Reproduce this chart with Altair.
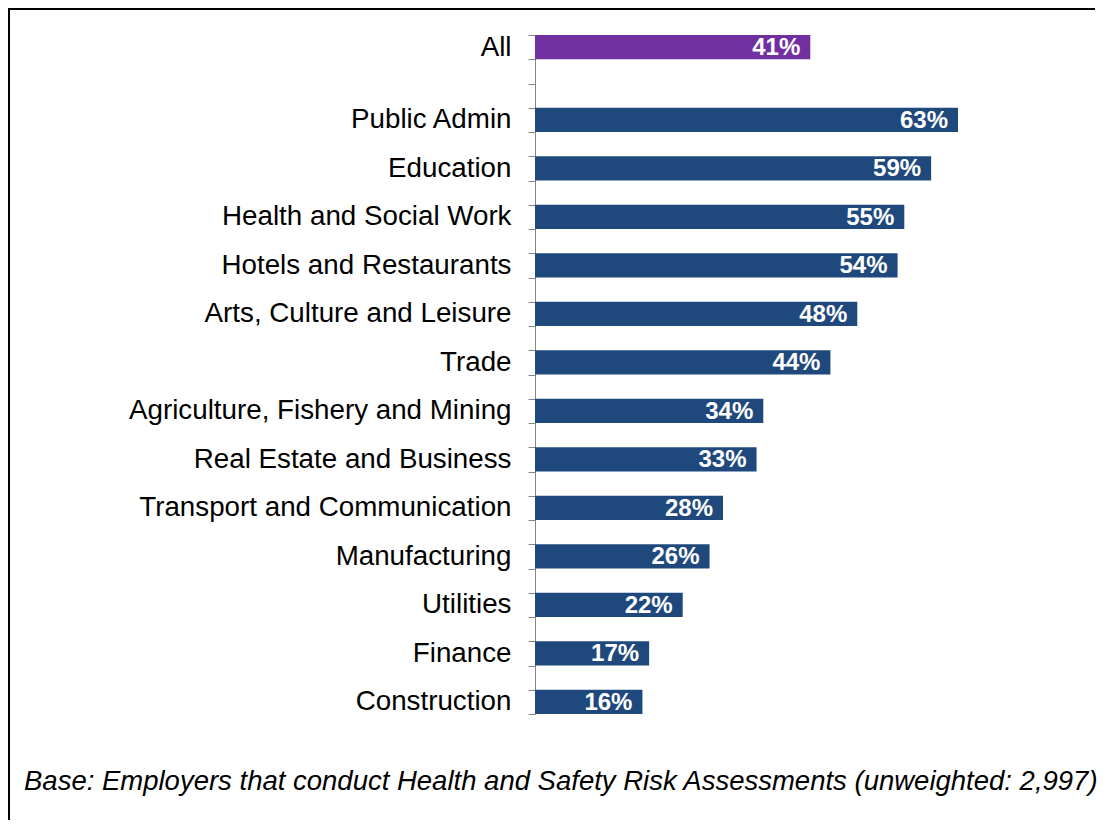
import altair as alt
import pandas as pd

categories = ["All", "Public Admin", "Education", "Health and Social Work",
              "Hotels and Restaurants", "Arts, Culture and Leisure", "Trade",
              "Agriculture, Fishery and Mining", "Real Estate and Business",
              "Transport and Communication", "Manufacturing", "Utilities",
              "Finance", "Construction"]
values = [41, 63, 59, 55, 54, 48, 44, 34, 33, 28, 26, 22, 17, 16]
caption = "Base: Employers that conduct Health and Safety Risk Assessments (unweighted: 2,997)"

# Row layout: "All", two blank rows, then each category followed by a blank row
domain = [categories[0], " ", "  "]
blank = 3
for i, c in enumerate(categories[1:]):
    domain.append(c)
    if i < len(categories) - 2:
        domain.append(" " * blank)
        blank += 1

df = pd.DataFrame({"category": categories, "value": values})
df["label"] = [f"{v}%" for v in values]
cap_df = pd.DataFrame({"text": [caption]})

FONT = "Liberation Sans"
ROW = 24.25
H = ROW * len(domain)
W = 470
PAD_L, PAD_T = 527, 27
SVG_W, SVG_H = 1091, 816

y_enc = alt.Y("category:N", sort=domain,
              scale=alt.Scale(domain=domain, paddingInner=0, paddingOuter=0),
              axis=alt.Axis(title=None, domainColor="#868686", tickColor="#868686",
                            tickSize=7, tickBand="extent", labelFont=FONT,
                            labelFontSize=27.75, labelColor="#000000",
                            labelPadding=17, labelLimit=600))
x_enc = alt.X("value:Q", scale=alt.Scale(domain=[0, 70], nice=False), axis=None)

bars = alt.Chart(df).mark_bar().encode(
    x=x_enc, y=y_enc,
    color=alt.condition(alt.datum.category == "All", alt.value("#7030A0"), alt.value("#1F497D")),
)

labels = alt.Chart(df).mark_text(align="right", baseline="middle", dx=-10, dy=1,
                                 font=FONT, fontSize=24, fontWeight="bold",
                                 color="white").encode(
    x=x_enc, y=y_enc, text="label:N")

cap = alt.Chart(cap_df).mark_text(align="left", baseline="alphabetic", font=FONT,
                                  fontSize=27.5, fontStyle="italic", color="#000000").encode(
    x=alt.value(-511), y=alt.value(755), text="text:N")

# frame edges (left and top) as thin filled rectangles
left_line = alt.Chart(cap_df).mark_rect(color="#000000", strokeWidth=0).encode(
    x=alt.value(-PAD_L), x2=alt.value(-PAD_L + 2), y=alt.value(-PAD_T), y2=alt.value(SVG_H - PAD_T - 4))
top_line = alt.Chart(cap_df).mark_rect(color="#000000", strokeWidth=0).encode(
    x=alt.value(-PAD_L), x2=alt.value(SVG_W - PAD_L - 4), y=alt.value(-PAD_T), y2=alt.value(-PAD_T + 2))

chart = alt.layer(left_line, top_line, bars, labels, cap).properties(
    width=W, height=H,
    autosize=alt.AutoSizeParams(type="none"),
    padding={"left": PAD_L, "top": PAD_T, "right": SVG_W - PAD_L - W, "bottom": SVG_H - PAD_T - H},
).configure(background="white").configure_view(stroke=None, strokeWidth=0)

chart.save("out.html", embed_options={"renderer": "svg", "actions": False})
